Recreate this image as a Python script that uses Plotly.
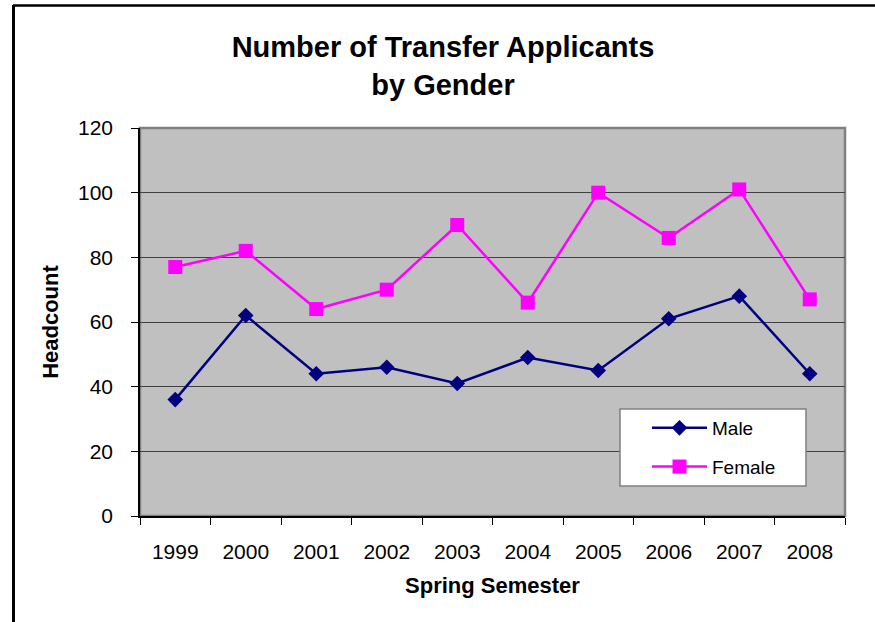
import plotly.graph_objects as go

# Spring-semester transfer applicants, headcount by gender
years = ["1999", "2000", "2001", "2002", "2003", "2004", "2005", "2006", "2007", "2008"]
male = [36, 62, 44, 46, 41, 49, 45, 61, 68, 44]
female = [77, 82, 64, 70, 90, 66, 100, 86, 101, 67]

W, H = 875, 622
L, R, T, B = 140, 30, 128, 106  # plot-area margins in px
PW, PH = W - L - R, H - T - B


def px_x(x):
    """Figure pixel x -> paper fraction."""
    return (x - L) / PW


def px_y(y):
    """Figure pixel y (from top) -> paper fraction."""
    return (H - B - y) / PH


FONT = "Liberation Sans, Arial, sans-serif"

fig = go.Figure()
fig.add_trace(go.Scatter(
    x=years, y=male, name="Male", mode="lines+markers",
    line=dict(color="#000080", width=2.5),
    marker=dict(symbol="diamond", size=12, color="#000080"),
    legendgroup="m",
))
fig.add_trace(go.Scatter(
    x=years, y=female, name="Female", mode="lines+markers",
    line=dict(color="#FF00FF", width=2.5),
    marker=dict(symbol="square", size=14, color="#FF00FF"),
    legendgroup="f",
))

shapes = [
    # plot area frame (gray top/right edges)
    dict(type="rect", xref="paper", yref="paper", x0=0, x1=1, y0=0, y1=1,
         line=dict(color="#808080", width=2.5), fillcolor="#C0C0C0", layer="below"),
    # legend box
    dict(type="rect", xref="paper", yref="paper",
         x0=px_x(620), x1=px_x(806), y0=px_y(486), y1=px_y(409),
         line=dict(color="#808080", width=1.5), fillcolor="white", layer="above"),
    # chart border
    dict(type="line", xref="paper", yref="paper",
         x0=px_x(13), x1=px_x(900), y0=px_y(5.5), y1=px_y(5.5),
         line=dict(color="black", width=2.5)),
    dict(type="line", xref="paper", yref="paper",
         x0=px_x(13.5), x1=px_x(13.5), y0=px_y(5), y1=px_y(660),
         line=dict(color="black", width=3)),
]

fig.update_layout(
    width=W, height=H,
    margin=dict(l=L, r=R, t=T, b=B, autoexpand=False),
    paper_bgcolor="white",
    plot_bgcolor="#C0C0C0",
    font=dict(family=FONT, color="black", size=21),
    title=dict(
        text="<b>Number of Transfer Applicants</b><br><b>by Gender</b>",
        font=dict(family=FONT, size=29, color="black"),
        x=443 / W, xanchor="center", xref="container",
        y=1 - 57 / H, yanchor="top", yref="container",
    ),
    xaxis=dict(
        type="category", categoryorder="array", categoryarray=years,
        range=[-0.5, 9.5], tickson="boundaries",
        ticks="outside", ticklen=7, tickcolor="black", tickwidth=1,
        showline=True, linecolor="black", linewidth=1.5,
        showgrid=False, zeroline=False,
        tickfont=dict(size=21), ticklabelstandoff=16,
        title=dict(text="<b>Spring Semester</b>", font=dict(size=22), standoff=16),
        automargin=False,
    ),
    yaxis=dict(
        range=[0, 120], dtick=20, tick0=0,
        ticks="outside", ticklen=7, tickcolor="black", tickwidth=1,
        showline=True, linecolor="black", linewidth=1.5,
        showgrid=True, gridcolor="#404040", gridwidth=1,
        zeroline=False,
        tickfont=dict(size=21), ticklabelstandoff=14,
        title=dict(text="<b>Headcount</b>", font=dict(size=22), standoff=13),
        automargin=False,
    ),
    legend=dict(
        x=px_x(647), y=px_y(409), xanchor="left", yanchor="top",
        bgcolor="rgba(0,0,0,0)", borderwidth=0,
        font=dict(size=19), tracegroupgap=11, itemwidth=55,
    ),
    shapes=shapes,
    showlegend=True,
)

fig.write_html("out.html")
